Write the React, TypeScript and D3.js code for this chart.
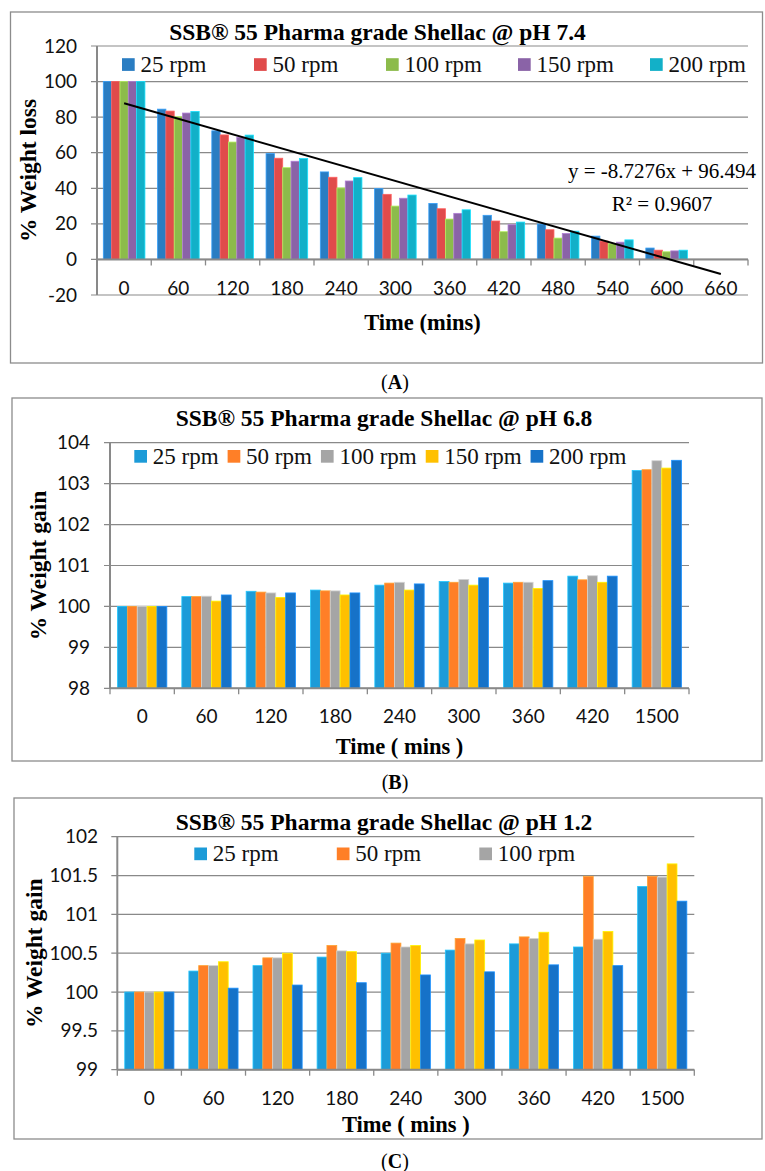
import { useRef, useEffect } from 'react';
import * as d3 from 'd3';

// ---- data ----
const catsA = ['0', '60', '120', '180', '240', '300', '360', '420', '480', '540', '600', '660'];
const rpmLabels = ['25 rpm', '50 rpm', '100 rpm', '150 rpm', '200 rpm'];
const ticksA = [-20, 0, 20, 40, 60, 80, 100, 120];

// pH 7.4, % weight loss (no bars at 660)
const a25 = [100, 84.5, 72.3, 59.5, 49.2, 39.8, 31.5, 24.8, 19.9, 13.1, 6.4];
const a50 = [100, 83.4, 70.0, 56.9, 46.2, 36.6, 28.5, 21.6, 16.7, 10.3, 5.2];
const a100 = [100, 80.2, 66.0, 51.6, 40.2, 30.0, 22.7, 15.6, 12.0, 8.8, 4.3];
const a150 = [100, 82.3, 68.7, 55.2, 44.1, 34.4, 25.9, 19.5, 14.6, 9.7, 4.8];
const a200 = [100, 83.2, 69.9, 56.7, 46.0, 36.2, 27.9, 21.0, 15.9, 11.0, 5.2];
const trendSlope = -8.7276;
const trendIntercept = 96.494;

const catsBC = ['0', '60', '120', '180', '240', '300', '360', '420', '1500'];
const ticksB = [98, 99, 100, 101, 102, 103, 104];
const ticksC = [99, 99.5, 100, 100.5, 101, 101.5, 102];

// pH 6.8, % weight gain
const b25 = [100, 100.24, 100.37, 100.40, 100.52, 100.61, 100.57, 100.74, 103.32];
const b50 = [100, 100.24, 100.35, 100.38, 100.57, 100.59, 100.59, 100.65, 103.34];
const b100 = [100, 100.25, 100.33, 100.38, 100.59, 100.66, 100.59, 100.75, 103.56];
const b150 = [100, 100.13, 100.22, 100.28, 100.40, 100.52, 100.44, 100.59, 103.38];
const b200 = [100, 100.28, 100.33, 100.33, 100.55, 100.70, 100.63, 100.74, 103.57];

// pH 1.2, % weight gain
const c25 = [100, 100.27, 100.34, 100.45, 100.50, 100.54, 100.62, 100.58, 101.36];
const c50 = [100, 100.34, 100.44, 100.60, 100.63, 100.69, 100.71, 101.49, 101.49];
const c100 = [100, 100.34, 100.44, 100.53, 100.58, 100.62, 100.69, 100.68, 101.48];
const c150 = [100, 100.39, 100.50, 100.52, 100.60, 100.67, 100.77, 100.78, 101.65];
const c200 = [100, 100.05, 100.09, 100.12, 100.22, 100.26, 100.35, 100.34, 101.17];

const colorsA = ['#2a7dc2', '#e04b4b', '#8cbb4b', '#8a63a7', '#12b0c8'];
const colorsBC = ['#1c9bd8', '#ff7f27', '#a5a5a5', '#ffc000', '#1672c8'];

const SERIF = '"Liberation Serif", "Times New Roman", serif';
const SANS = 'Lato, "Open Sans", sans-serif';
const GRID = '#898989';

function drawPanel(svg, p) {
  const g = svg.append('g');
  // frame
  g.append('rect').attr('x', p.frame[0]).attr('y', p.frame[1])
    .attr('width', p.frame[2] - p.frame[0]).attr('height', p.frame[3] - p.frame[1])
    .attr('fill', 'none').attr('stroke', '#8c8c8c').attr('stroke-width', 1.3);

  const x0 = d3.scaleBand().domain(p.cats).range([p.left, p.right])
    .paddingInner(0.233).paddingOuter(0.1165);
  const step = x0.step();
  const x1 = d3.scaleBand().domain(d3.range(p.series.length)).range([0, x0.bandwidth()]);
  const y = d3.scaleLinear().domain(p.yDomain).range([p.bottom, p.top]);

  // gridlines + y ticks
  p.ticks.forEach(t => {
    g.append('line').attr('x1', p.left - 6).attr('x2', p.right)
      .attr('y1', y(t)).attr('y2', y(t)).attr('stroke', GRID).attr('stroke-width', 1.2);
    g.append('text').attr('x', p.yLabelX).attr('y', y(t) + 6.5).attr('text-anchor', 'end')
      .style('font-family', SANS).style('font-size', '19px').attr('fill', '#111').text(String(t));
  });

  // bars
  p.series.forEach((vals, si) => {
    const c = p.colors[si];
    vals.forEach((v, ci) => {
      if (v == null) return;
      const bx = x0(p.cats[ci]) + x1(si);
      const y0 = y(p.base);
      const yv = y(v);
      g.append('rect').attr('x', bx).attr('y', Math.min(y0, yv))
        .attr('width', x1.bandwidth()).attr('height', Math.abs(y0 - yv))
        .attr('fill', c).attr('stroke', d3.color(c).brighter(0.7).formatHex()).attr('stroke-width', 0.8);
    });
  });

  // axes
  const axY = y(p.axisAt);
  g.append('line').attr('x1', p.left).attr('x2', p.left).attr('y1', p.top).attr('y2', p.bottom)
    .attr('stroke', GRID).attr('stroke-width', 2);
  g.append('line').attr('x1', p.left).attr('x2', p.right).attr('y1', axY).attr('y2', axY)
    .attr('stroke', GRID).attr('stroke-width', 2);
  d3.range(p.cats.length + 1).forEach(i => {
    const tx = p.left + i * step;
    g.append('line').attr('x1', tx).attr('x2', tx).attr('y1', axY).attr('y2', axY + 6)
      .attr('stroke', GRID).attr('stroke-width', 1.3);
  });
  p.cats.forEach(c => {
    g.append('text').attr('x', x0(c) + x0.bandwidth() / 2).attr('y', p.xLabelY)
      .attr('text-anchor', 'middle').style('font-family', SANS).style('font-size', '19px')
      .attr('fill', '#111').text(c);
  });

  // titles
  g.append('text').attr('x', p.titleX).attr('y', p.titleY).attr('text-anchor', 'middle')
    .style('font-family', SERIF).style('font-weight', 'bold').style('font-size', '23.5px').text(p.title);
  g.append('text').attr('x', (p.left + p.right) / 2).attr('y', p.xTitleY).attr('text-anchor', 'middle')
    .style('font-family', SERIF).style('font-weight', 'bold').style('font-size', '22.5px').text(p.xTitle);
  g.append('text').attr('transform', `translate(${p.yTitleX},${(p.top + p.bottom) / 2}) rotate(-90)`)
    .attr('text-anchor', 'middle').attr('dy', '0.35em')
    .style('font-family', SERIF).style('font-weight', 'bold').style('font-size', '23.5px').text(p.yTitle);

  // legend
  let lx = p.legend.x;
  p.legend.labels.forEach((lab, i) => {
    g.append('rect').attr('x', lx).attr('y', p.legend.y - 6.5).attr('width', 12.7).attr('height', 12.7)
      .attr('fill', p.colors[i]);
    const t = g.append('text').attr('x', lx + 18.5).attr('y', p.legend.y + 7)
      .style('font-family', SERIF).style('font-size', '23px').attr('fill', '#111').text(lab);
    if (p.legend.step) lx += p.legend.step;
    else lx += 18.5 + t.node().getComputedTextLength() + 9;
  });

  // caption
  const cap = g.append('text').attr('x', 395).attr('y', p.captionY).attr('text-anchor', 'middle')
    .style('font-family', SERIF).style('font-size', '20px');
  cap.append('tspan').text('(');
  cap.append('tspan').style('font-weight', 'bold').text(p.caption);
  cap.append('tspan').text(')');

  return { g, x0, y };
}

export default function App() {
  const ref = useRef(null);

  useEffect(() => {
    const el = ref.current;
    el.innerHTML = '';
    const svg = d3.select(el).append('svg').attr('width', 765).attr('height', 1171)
      .style('position', 'absolute').style('left', 0).style('top', 0).style('background', '#fff');

    // Panel A
    const A = drawPanel(svg, {
      frame: [10.5, 12, 762.5, 363],
      left: 97, right: 748, top: 46, bottom: 295,
      cats: catsA, series: [a25, a50, a100, a150, a200], colors: colorsA,
      yDomain: [-20, 120], ticks: ticksA, base: 0, axisAt: 0,
      yLabelX: 77, xLabelY: 295,
      title: 'SSB® 55 Pharma grade Shellac @ pH 7.4', titleX: 377.5, titleY: 40,
      xTitle: 'Time (mins)', xTitleY: 330, yTitle: '% Weight loss', yTitleX: 28,
      legend: { x: 122, y: 64.7, labels: rpmLabels, step: 132 },
      caption: 'A', captionY: 389,
    });
    // trendline across category centres (x = 1..12)
    const pts = d3.range(1, catsA.length + 1).map(i => [
      A.x0(catsA[i - 1]) + A.x0.bandwidth() / 2, A.y(trendSlope * i + trendIntercept),
    ]);
    A.g.append('path').attr('d', d3.line()([pts[0], pts[pts.length - 1]]))
      .attr('stroke', '#000').attr('stroke-width', 2).attr('fill', 'none');
    A.g.append('text').attr('x', 662).attr('y', 178).attr('text-anchor', 'middle')
      .style('font-family', SERIF).style('font-size', '21px').text('y = -8.7276x + 96.494');
    A.g.append('text').attr('x', 662).attr('y', 210.5).attr('text-anchor', 'middle')
      .style('font-family', SERIF).style('font-size', '21px').text('R² = 0.9607');

    // Panel B
    drawPanel(svg, {
      frame: [12, 398, 762, 761],
      left: 110, right: 689, top: 442.7, bottom: 688.3,
      cats: catsBC, series: [b25, b50, b100, b150, b200], colors: colorsBC,
      yDomain: [98, 104], ticks: ticksB, base: 98, axisAt: 98,
      yLabelX: 90, xLabelY: 723,
      title: 'SSB® 55 Pharma grade Shellac @ pH 6.8', titleX: 384, titleY: 426,
      xTitle: 'Time ( mins )', xTitleY: 754, yTitle: '% Weight gain', yTitleX: 38,
      legend: { x: 134.3, y: 456.5, labels: rpmLabels },
      caption: 'B', captionY: 789,
    });

    // Panel C (legend shows only the first three entries)
    drawPanel(svg, {
      frame: [14, 798, 762, 1139],
      left: 117.3, right: 694.3, top: 836.7, bottom: 1069.7,
      cats: catsBC, series: [c25, c50, c100, c150, c200], colors: colorsBC,
      yDomain: [99, 102], ticks: ticksC, base: 99, axisAt: 99,
      yLabelX: 98, xLabelY: 1105,
      title: 'SSB® 55 Pharma grade Shellac @ pH 1.2', titleX: 384, titleY: 830,
      xTitle: 'Time ( mins )', xTitleY: 1132, yTitle: '% Weight gain', yTitleX: 34,
      legend: { x: 194.3, y: 854, labels: rpmLabels.slice(0, 3), step: 142.5 },
      caption: 'C', captionY: 1168,
    });
  }, []);

  return <div ref={ref} />;
}
